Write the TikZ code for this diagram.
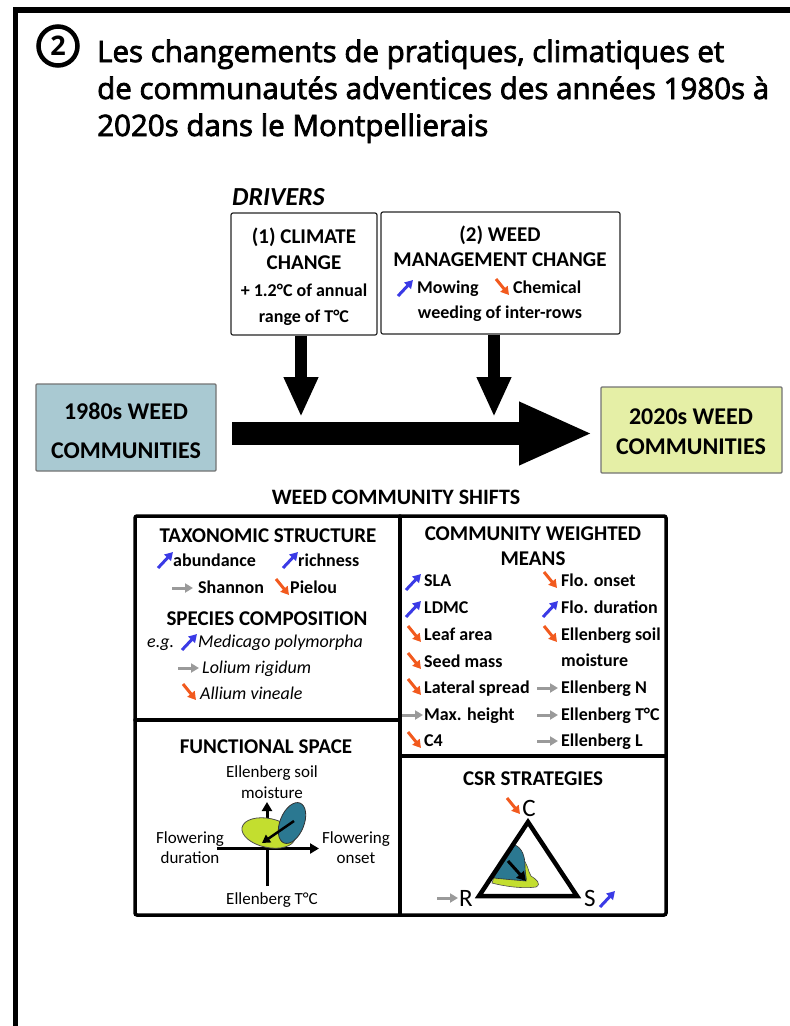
\documentclass[tikz,border=0pt]{standalone}
\usepackage{fontspec}
\setmainfont{Carlito}
\newfontfamily\titlefont[FakeBold=2.6]{Open Sans}
\newfontfamily\numfont{Open Sans}
\usetikzlibrary{arrows.meta}
\definecolor{upblue}{HTML}{3A3AE6}
\definecolor{downorange}{HTML}{F25A1E}
\definecolor{flatgray}{HTML}{9A9A9A}
\definecolor{oldblue}{HTML}{A9C9D2}
\definecolor{newyellow}{HTML}{E5EFA6}
\definecolor{blobteal}{HTML}{2B7891}
\definecolor{blobgreen}{HTML}{C3DE2F}
\newcommand\fsz[1]{\fontsize{#1}{#1}\selectfont}
\begin{document}
\begin{tikzpicture}[x=1pt,y=-1pt,
  icon/.style={line width=3pt,-{Triangle[length=8pt,width=9pt]}},
  pics/up/.style={code={\draw[icon,upblue](0,0)--(15,-16);}},
  pics/down/.style={code={\draw[icon,downorange](0,0)--(13,16);}},
  pics/flat/.style={code={\draw[icon,flatgray](0,0)--(21,0);}},
  txt/.style={inner sep=0pt,font=\fsz{18}\bfseries},
  head/.style={inner sep=0pt,font=\fsz{21}\bfseries},
  reg/.style={inner sep=0pt,font=\fsz{17}},
  ital/.style={inner sep=0pt,font=\fsz{18}\itshape},
  driverbox/.style={draw=black!85,line width=1.2pt,rounded corners=2pt,fill=white},
  commbox/.style={draw=black!55,line width=1.3pt,rounded corners=1pt},
  gridline/.style={line width=3.5pt,line cap=round},
  downarr/.style={line width=12pt,-{Triangle[length=40pt,width=32pt]}},
  bigarr/.style={line width=23pt,-{Triangle[length=74pt,width=58pt]}},
]
\useasboundingbox (0,0) rectangle (790,1026);
% frame
\draw[line width=5.5pt] (15.5,1026) -- (15.5,10) -- (790,10);
% title
\node[draw,circle,line width=4.5pt,minimum size=39pt,inner sep=0pt,font=\numfont\fsz{27}\bfseries] (num) at (58,46) {2};
\node[anchor=base west,inner sep=0pt,font=\titlefont\fsz{29.5}] (t1) at (97,62) {Les changements de pratiques, climatiques et};
\node[anchor=base west,inner sep=0pt,font=\titlefont\fsz{29.5}] (t2) at (97,99) {de communautés adventices des années 1980s à};
\node[anchor=base west,inner sep=0pt,font=\titlefont\fsz{29.5}] (t3) at (97,136) {2020s dans le Montpellierais};
% drivers
\node[anchor=base west,inner sep=0pt,font=\fsz{26}\bfseries\itshape] (drv) at (232,205) {DRIVERS};
\node[driverbox,minimum width=146pt,minimum height=122pt] (clim) at (304,274) {};
\node[driverbox,minimum width=239pt,minimum height=122pt] (mgmt) at (500.5,273) {};
\node[head,anchor=base] (c1) at (304,243) {(1) CLIMATE};
\node[head,anchor=base] (c2) at (304,269) {CHANGE};
\node[txt,anchor=base] (c3) at (304,296) {+ 1.2°C of annual};
\node[txt,anchor=base] (c4) at (304,322) {range of T°C};
\node[head,anchor=base] (m1) at (500,241) {(2) WEED};
\node[head,anchor=base] (m2) at (500,266) {MANAGEMENT CHANGE};
\pic at (398,296) {up};
\node[txt,anchor=base west] (m3) at (417,293) {Mowing};
\pic at (496,279) {down};
\node[txt,anchor=base west] (m4) at (513,293) {Chemical};
\node[txt,anchor=base] (m5) at (500,318) {weeding of inter-rows};
% communities
\node[commbox,fill=oldblue,minimum width=180pt,minimum height=87pt] (old) at (126,427.5) {};
\node[commbox,fill=newyellow,minimum width=181pt,minimum height=86pt] (new) at (691.5,430) {};
\node[anchor=base,inner sep=0pt,font=\fsz{24}\bfseries] (o1) at (126,419) {1980s WEED};
\node[anchor=base,inner sep=0pt,font=\fsz{24}\bfseries] (o2) at (126,458) {COMMUNITIES};
\node[anchor=base,inner sep=0pt,font=\fsz{24}\bfseries] (n1) at (691,424) {2020s WEED};
\node[anchor=base,inner sep=0pt,font=\fsz{24}\bfseries] (n2) at (691,454) {COMMUNITIES};
% arrows
\coordinate (bs) at (232,433.5);
\coordinate (bt) at (593,433.5);
\draw[bigarr] (bs) -- (bt);
\coordinate (d1) at (301,417);
\coordinate (d2) at (494,417);
\draw[downarr] (clim.south -| d1) -- (d1);
\draw[downarr] (mgmt.south -| d2) -- (d2);
% shifts
\node[anchor=base,inner sep=0pt,font=\fsz{22}\bfseries] (shifts) at (396,504) {WEED COMMUNITY SHIFTS};
\draw[gridline,rounded corners=2pt] (135,516) rectangle (666,915);
\draw[gridline] (400,516) -- (400,915);
\draw[gridline] (135,720) -- (400,720);
\draw[gridline] (400,756) -- (666,756);
% taxonomic
\node[head,anchor=base] (tx) at (268,542) {TAXONOMIC STRUCTURE};
\pic at (158,568) {up};
\node[txt,anchor=base west] (ab) at (173,566) {abundance};
\pic at (283,568) {up};
\node[txt,anchor=base west] (ri) at (298,566) {richness};
\pic at (172,588) {flat};
\node[txt,anchor=base west] (sh) at (198,593) {Shannon};
\pic at (276,579) {down};
\node[txt,anchor=base west] (pi) at (290,593) {Pielou};
\node[head,anchor=base] (sc) at (267,625) {SPECIES COMPOSITION};
\node[ital,anchor=base west] (eg) at (147,647) {e.g.};
\pic at (182,650) {up};
\node[ital,anchor=base west] (med) at (198,647) {Medicago polymorpha};
\pic at (178,668) {flat};
\node[ital,anchor=base west] (lol) at (202,673) {Lolium rigidum};
\pic at (183,684) {down};
\node[ital,anchor=base west] (all) at (200,699) {Allium vineale};
% CWM
\node[head,anchor=base] (cw1) at (533,540) {COMMUNITY WEIGHTED};
\node[head,anchor=base] (cw2) at (533,565) {MEANS};
\pic at (406,590) {up};
\node[txt,anchor=base west] (l1) at (424,586) {SLA};
\pic at (406,617) {up};
\node[txt,anchor=base west] (l2) at (424,613) {LDMC};
\pic at (408,626) {down};
\node[txt,anchor=base west] (l3) at (424,640) {Leaf area};
\pic at (408,653) {down};
\node[txt,anchor=base west] (l4) at (424,667) {Seed mass};
\pic at (408,679) {down};
\node[txt,anchor=base west] (l5) at (424,693) {Lateral spread};
\pic at (402,715) {flat};
\node[txt,anchor=base west] (l6) at (424,720) {Max. height};
\pic at (408,732) {down};
\node[txt,anchor=base west] (l7) at (424,746) {C4};
\pic at (544,572) {down};
\node[txt,anchor=base west] (r1) at (561,586) {Flo. onset};
\pic at (543,617) {up};
\node[txt,anchor=base west] (r2) at (561,613) {Flo. duration};
\pic at (544,626) {down};
\node[txt,anchor=base west] (r3) at (561,640) {Ellenberg soil};
\node[txt,anchor=base west] (r4) at (561,666) {moisture};
\pic at (537,688) {flat};
\node[txt,anchor=base west] (r5) at (561,693) {Ellenberg N};
\pic at (537,715) {flat};
\node[txt,anchor=base west] (r6) at (561,720) {Ellenberg T°C};
\pic at (537,741) {flat};
\node[txt,anchor=base west] (r7) at (561,746) {Ellenberg L};
% functional space
\node[head,anchor=base] (fs) at (266,753) {FUNCTIONAL SPACE};
\node[reg,anchor=base] (fs1) at (272,777) {Ellenberg soil};
\node[reg,anchor=base] (fs2) at (272,798) {moisture};
\node[reg,anchor=base] (fs3) at (190,843) {Flowering};
\node[reg,anchor=base] (fs4) at (190,863) {duration};
\node[reg,anchor=base] (fs5) at (356,843) {Flowering};
\node[reg,anchor=base] (fs6) at (356,863) {onset};
\node[reg,anchor=base] (fs7) at (272,904) {Ellenberg T°C};
\coordinate (vb) at (267,886);
\coordinate (vt) at (267,802);
\coordinate (hl) at (217,848.5);
\coordinate (hr) at (319,848.5);
\draw[line width=3pt,-{Triangle[length=9pt,width=10pt]}] (vb) -- (vt);
\draw[line width=3pt,-{Triangle[length=9pt,width=10pt]}] (hl) -- (hr);
\draw[fill=blobgreen,draw=black!70,line width=0.8pt] (268.5,833) ellipse [x radius=27, y radius=14.5, rotate=-12];
\draw[fill=blobteal,draw=black!80,line width=0.8pt] (292,823) ellipse [x radius=12, y radius=21.5, rotate=-22];
\coordinate (fa) at (294,821);
\coordinate (fb) at (262,843);
\draw[line width=2.5pt,-{Triangle[length=8pt,width=9pt]}] (fa) -- (fb);
% CSR
\node[head,anchor=base] (csr) at (533,785) {CSR STRATEGIES};
\node[inner sep=0pt,anchor=base,font=\fsz{25}] (C) at (529,816) {C};
\node[inner sep=0pt,anchor=base west,font=\fsz{25}] (R) at (459,906) {R};
\node[inner sep=0pt,anchor=base west,font=\fsz{25}] (S) at (584,906) {S};
\coordinate (tc) at (528,822);
\coordinate (tl) at (479,896);
\coordinate (tr) at (577,896);
\fill[blobgreen,draw=black!70,line width=0.6pt] (494,877) .. controls (505,874) and (515,872) .. (521,858) .. controls (528,862) and (528,872) .. (531,876) .. controls (536,879) and (542,884) .. (536,887) .. controls (522,889) and (503,886) .. (492,883) -- cycle;
\fill[blobteal,draw=black!80,line width=0.6pt] (496,874) -- (515,845) .. controls (522,848) and (525,856) .. (525,866) .. controls (525,874) and (527,879) .. (526,881) .. controls (515,880) and (503,879) .. (494,878) -- cycle;
\draw[line width=4.5pt,line join=miter] (tc) -- (tl) -- (tr) -- cycle;
\coordinate (ca) at (508,861);
\coordinate (cb) at (526,881);
\draw[line width=3pt,-{Triangle[length=9pt,width=10pt]}] (ca) -- (cb);
\pic at (507,798) {down};
\pic at (437,898) {flat};
\pic at (600,907) {up};
\end{tikzpicture}
\end{document}
